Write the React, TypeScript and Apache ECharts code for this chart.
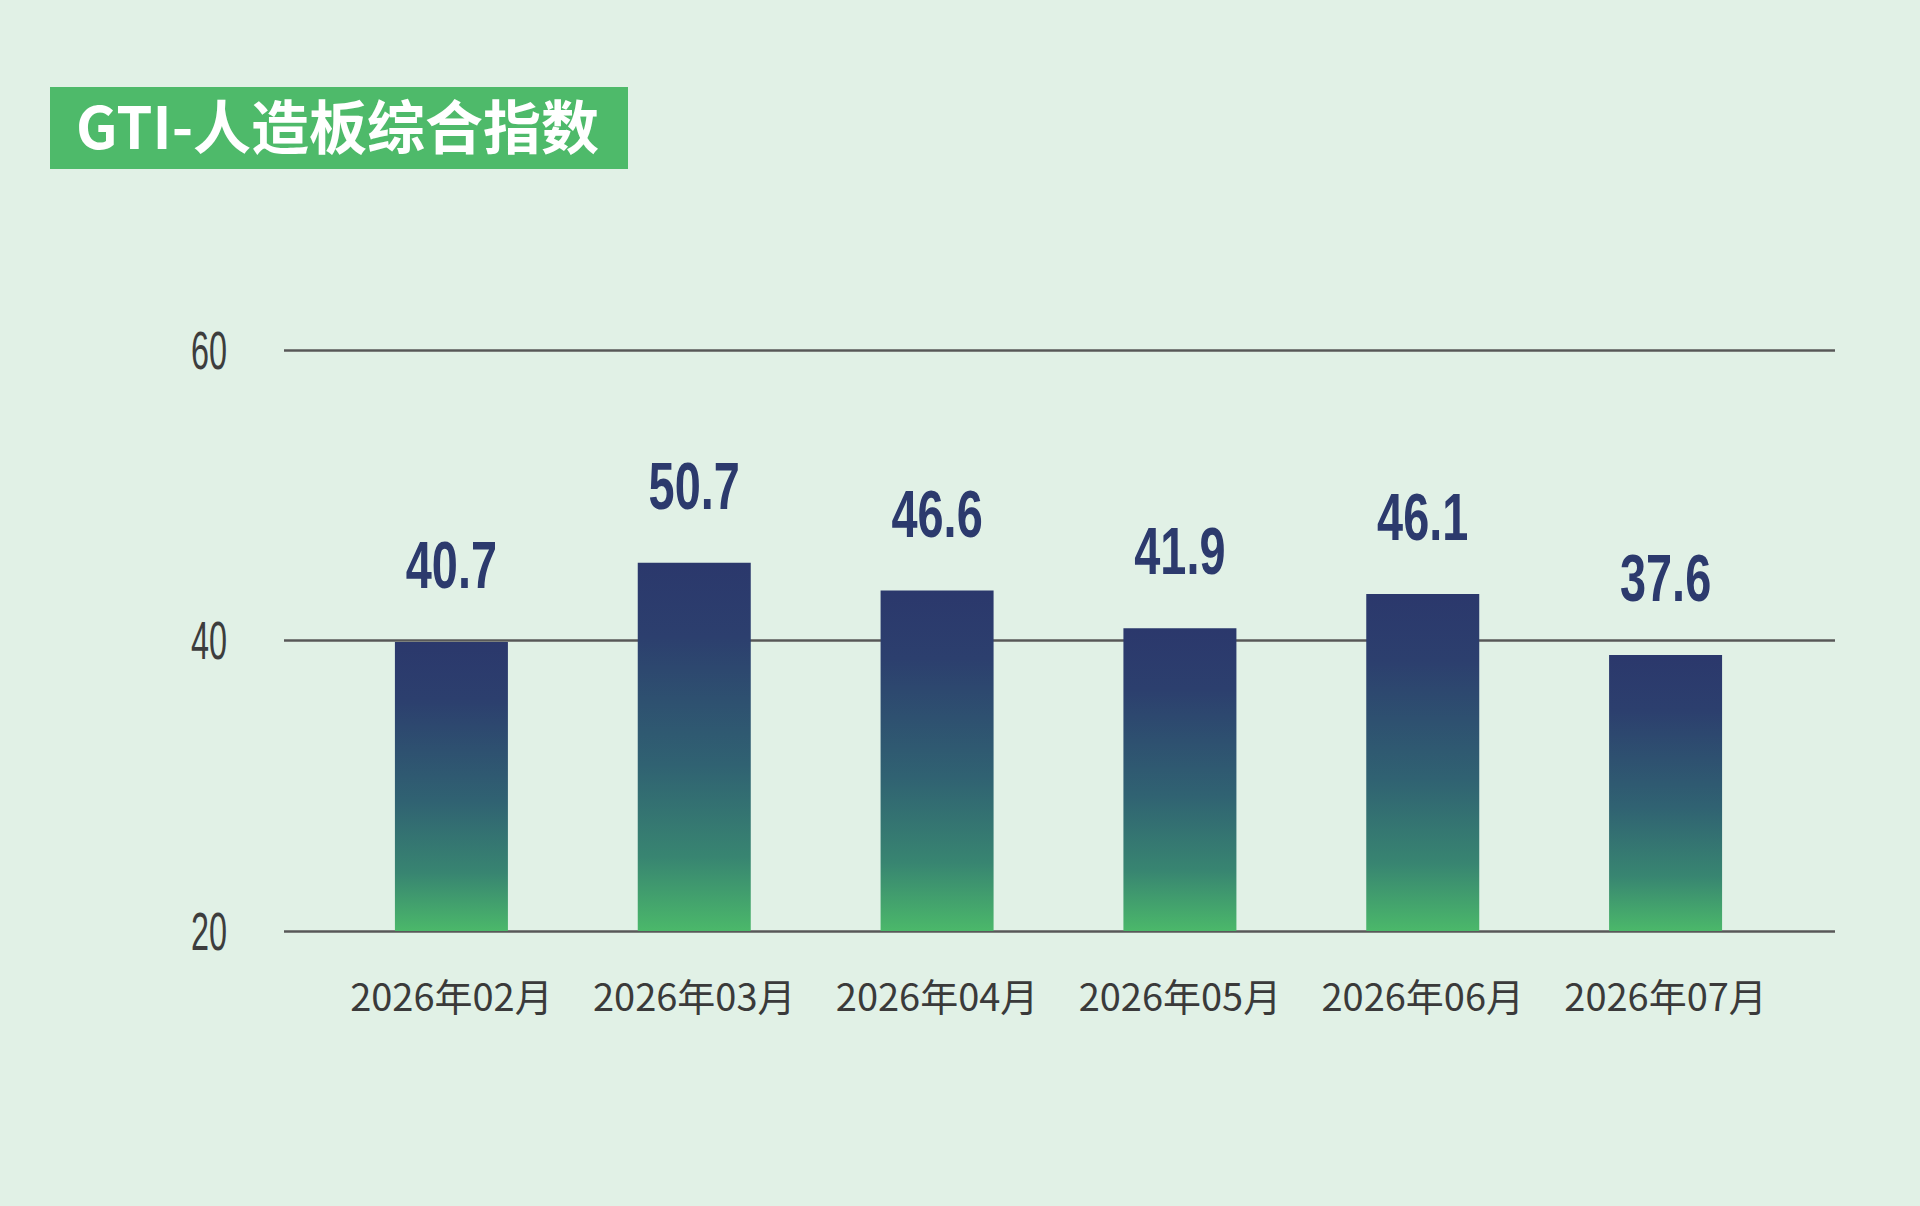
import React, { useEffect, useRef } from 'react';
import * as echarts from 'echarts';

// categories
const months = ['2026年02月', '2026年03月', '2026年04月', '2026年05月', '2026年06月', '2026年07月'];
// index values printed above the bars
const indexValues = [40.7, 50.7, 46.6, 41.9, 46.1, 37.6];
// bar heights as drawn in the source (measured against a 0–80 scale)
const barHeights = [39.8, 50.7, 46.9, 41.7, 46.4, 38.0];
// visible y ticks
const yTicks = [20, 40, 60];

const latinFont = '"Liberation Sans", Arial, sans-serif';
const cjkFont = '"Noto Sans CJK SC", "Noto Sans", sans-serif';

export default function App() {
  const chartRef = useRef<HTMLDivElement>(null);

  useEffect(() => {
    document.body.style.margin = '0';
    if (!chartRef.current) return;
    const chart = echarts.init(chartRef.current, null, { renderer: 'svg' });

    const option: echarts.EChartsOption = {
      animation: false,
      backgroundColor: '#e1f1e6',
      graphic: [
        {
          type: 'rect',
          left: 50,
          top: 87,
          shape: { width: 578, height: 82 },
          style: { fill: '#4eba6a' },
          z: 10,
        },
        {
          type: 'text',
          x: 76,
          y: 124,
          style: {
            text: 'GTI-人造板综合指数',
            fill: '#ffffff',
            fontSize: 58,
            fontWeight: 'bold',
            fontFamily: cjkFont,
            verticalAlign: 'middle',
          },
          z: 11,
        },
      ],
      grid: [
        // horizontal rules and the 20/40/60 scale
        { left: 284, right: 85, top: 350, bottom: 275 },
        // bars
        { left: 330, right: 133, top: 350, bottom: 275 },
      ],
      xAxis: [
        { type: 'value', gridIndex: 0, min: 0, max: 1, show: false },
        {
          type: 'category',
          gridIndex: 1,
          data: months,
          axisLine: { show: false },
          axisTick: { show: false },
          axisLabel: {
            interval: 0,
            margin: 44,
            fontSize: 38,
            color: '#3a3a3a',
            fontFamily: cjkFont,
          },
        },
      ],
      yAxis: [
        {
          type: 'value',
          gridIndex: 0,
          min: yTicks[0],
          max: yTicks[yTicks.length - 1],
          interval: yTicks[1] - yTicks[0],
          axisLine: { show: false },
          axisTick: { show: false },
          axisLabel: { show: false },
          splitLine: { lineStyle: { color: '#585858', width: 2.5 } },
        },
        {
          type: 'value',
          gridIndex: 1,
          min: 0,
          max: 80,
          show: false,
          splitLine: { show: false },
        },
      ],
      series: [
        {
          type: 'bar',
          xAxisIndex: 1,
          yAxisIndex: 1,
          data: barHeights,
          barWidth: 113,
          itemStyle: {
            color: new echarts.graphic.LinearGradient(0, 0, 0, 1, [
              { offset: 0, color: '#2b386c' },
              { offset: 0.2, color: '#2c3f6e' },
              { offset: 0.55, color: '#306272' },
              { offset: 0.8, color: '#388571' },
              { offset: 1, color: '#4bb86a' },
            ]),
          },
        },
        // condensed value labels above each bar
        {
          type: 'custom',
          xAxisIndex: 1,
          yAxisIndex: 1,
          silent: true,
          data: barHeights.map((h, i) => [i, h]),
          renderItem: (params: any, api: any) => {
            const p = api.coord([api.value(0), api.value(1)]);
            return {
              type: 'text',
              x: p[0],
              y: p[1] - 77,
              scaleX: 0.7,
              style: {
                text: indexValues[params.dataIndex].toFixed(1),
                fill: '#2c3a6d',
                fontSize: 67,
                fontWeight: 'bold',
                fontFamily: latinFont,
                align: 'center',
                verticalAlign: 'middle',
              },
            };
          },
          z: 5,
        },
        // condensed light tick labels for the 20/40/60 scale
        {
          type: 'custom',
          xAxisIndex: 0,
          yAxisIndex: 0,
          silent: true,
          data: yTicks.map((t) => [0, t]),
          renderItem: (params: any, api: any) => {
            const p = api.coord([0, api.value(1)]);
            return {
              type: 'text',
              x: params.coordSys.x - 57,
              y: p[1],
              scaleX: 0.6,
              style: {
                text: String(api.value(1)),
                fill: '#3d3d3d',
                fontSize: 54,
                fontFamily: latinFont,
                align: 'right',
                verticalAlign: 'middle',
              },
            };
          },
          z: 5,
        },
      ],
    };

    chart.setOption(option);
    return () => {
      chart.dispose();
    };
  }, []);

  return <div ref={chartRef} style={{ width: 1920, height: 1206 }} />;
}
